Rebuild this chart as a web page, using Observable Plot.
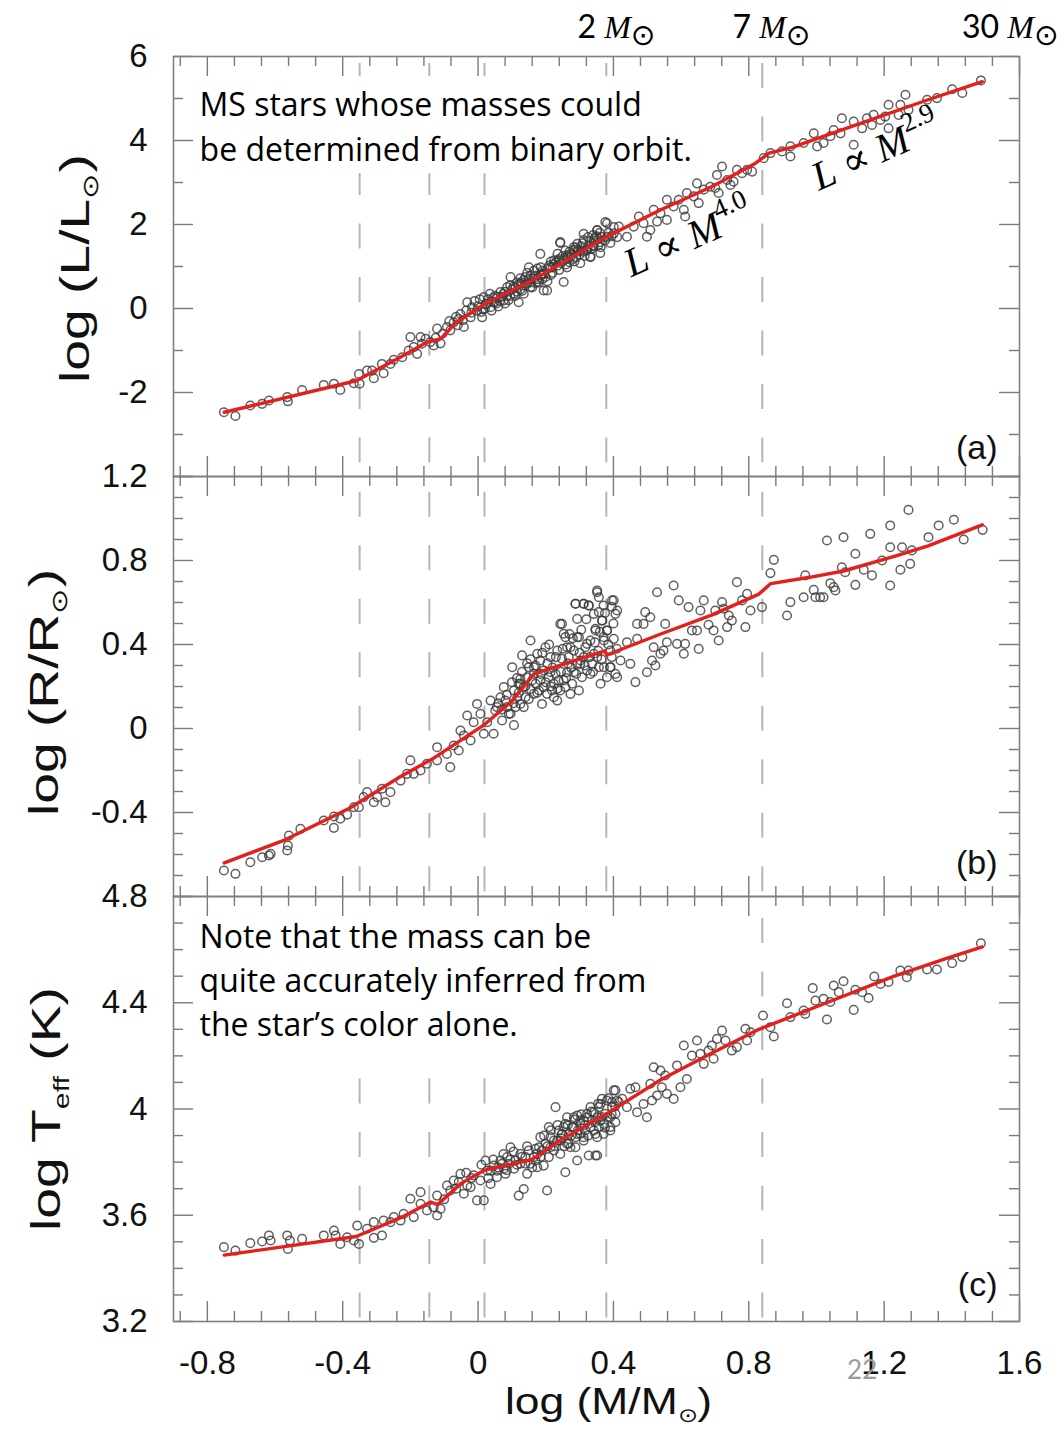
<!DOCTYPE html>
<html><head><meta charset="utf-8">
<script src="https://cdn.jsdelivr.net/npm/d3@7"></script>
<script src="https://cdn.jsdelivr.net/npm/@observablehq/plot@0.6"></script>
<style>
body{margin:0;background:#fff;}
#wrap{position:relative;width:1064px;height:1430px;overflow:hidden;background:#fff;}
</style></head><body><div id="wrap"></div>
<script>
// ---------- DATA ----------
// x = log(M/Msun)
const lumStars = [[-0.751,-2.47],[-0.717,-2.56],[-0.673,-2.31],[-0.638,-2.27],[-0.618,-2.19],[-0.564,-2.11],[-0.562,-2.21],[-0.520,-1.94],[-0.456,-1.82],[-0.426,-1.79],[-0.407,-1.94],[-0.367,-1.78],[-0.352,-1.56],[-0.350,-1.79],[-0.328,-1.48],[-0.308,-1.66],[-0.313,-1.48],[-0.284,-1.32],[-0.279,-1.54],[-0.259,-1.32],[-0.249,-1.22],[-0.224,-1.16],[-0.200,-0.68],[-0.205,-1.00],[-0.190,-0.92],[-0.180,-1.08],[-0.170,-0.68],[-0.166,-0.84],[-0.141,-0.80],[-0.131,-0.88],[-0.121,-0.48],[-0.111,-0.83],[-0.092,-0.44],[-0.082,-0.52],[-0.072,-0.33],[-0.057,-0.25],[-0.052,-0.13],[-0.042,-0.44],[-0.032,0.15],[-0.022,-0.21],[-0.018,0.03],[-0.003,-0.05],[0.012,-0.21],[0.017,0.27],[0.022,0.11],[0.037,0.03],[0.046,0.15],[0.056,0.27],[0.066,0.39],[0.076,0.19],[0.086,0.51],[0.096,0.75],[0.106,0.35],[0.120,0.15],[0.125,0.59],[0.135,0.35],[0.140,0.75],[0.150,0.98],[0.155,0.51],[0.165,0.90],[0.175,0.63],[0.184,1.30],[0.189,0.83],[0.194,0.43],[0.204,0.43],[0.214,0.98],[0.224,1.06],[0.238,1.14],[0.243,1.58],[0.253,0.63],[0.258,1.38],[0.263,0.98],[0.273,1.22],[0.283,1.46],[0.293,1.54],[0.303,1.38],[0.312,1.78],[0.322,1.38],[0.332,1.22],[0.342,1.62],[0.352,1.86],[0.362,1.46],[0.376,2.06],[0.381,1.70],[0.401,1.94],[0.411,1.70],
[0.243,1.56],[0.263,1.24],[0.283,1.40],[0.302,1.08],[0.312,1.63],[0.332,1.24],[0.342,1.48],[0.352,1.87],[0.361,1.32],[0.381,2.03],[0.391,1.56],[0.401,1.79],[0.416,1.95],[0.440,1.71],[0.460,1.95],[0.475,2.19],[0.489,2.03],[0.499,1.71],[0.509,1.87],[0.519,2.35],[0.529,2.07],[0.539,2.27],[0.558,2.11],[0.558,2.59],[0.578,2.43],[0.593,2.59],[0.608,2.35],[0.612,2.19],[0.617,2.75],[0.637,2.67],[0.647,2.98],[0.652,2.51],[0.667,2.83],[0.686,2.90],[0.701,2.87],[0.711,2.75],[0.721,3.38],[0.706,3.18],[0.736,3.06],[0.746,2.94],[0.755,3.02],[0.765,3.30],[0.780,3.22],[0.795,3.30],[0.810,3.26],[0.844,3.58],[0.864,3.70],[0.898,3.74],[0.923,3.62],[0.923,3.86],[0.962,3.94],[0.992,4.17],[1.002,3.86],[1.021,3.94],[1.041,4.10],[1.051,4.25],[1.071,4.17],[1.075,4.53],[1.110,4.45],[1.110,3.90],[1.135,4.29],[1.149,4.53],[1.164,4.37],[1.169,4.61],[1.189,4.49],[1.203,4.57],[1.213,4.29],[1.213,4.85],[1.243,4.61],[1.248,4.85],[1.263,5.09],[1.272,4.73],[1.327,4.97],[1.356,5.01],[1.401,5.22],[1.431,5.13],[1.486,5.43],
[0.00,0.05],[0.03,0.22],[0.04,-0.05],[0.05,0.30],[0.06,0.05],[0.07,0.28],[0.08,0.40],[0.09,0.20],[0.10,0.45],[0.11,0.30],[0.12,0.58],[0.13,0.42],[0.14,0.55],[0.15,0.70],[0.16,0.50],[0.17,0.78],[0.18,0.62],[0.19,0.90],[0.20,0.75],[0.21,1.02],[0.22,0.85],[0.23,1.10],[0.24,0.92],[0.25,1.25],[0.26,1.05],[0.27,1.35],[0.28,1.18],[0.29,1.45],[0.30,1.28],[0.31,1.55],[0.32,1.40],[0.33,1.60],[0.34,1.50],[0.35,1.72],[0.36,1.58],[0.02,0.00],[0.08,0.12],[0.13,0.62],[0.19,0.70],[0.24,1.18],[0.29,1.22],[0.34,1.75],[-0.02,-0.10],[0.05,0.15],[0.11,0.50],[0.17,0.60],[0.22,0.98],[0.27,1.10],[0.31,1.35],[0.36,1.80],
[-0.01,0.18],[0.01,-0.08],[0.035,0.35],[0.065,0.18],[0.095,0.55],[0.115,0.40],[0.145,0.85],[0.175,0.95],[0.205,0.65],[0.235,1.30],[0.265,1.20],[0.295,1.35],[0.325,1.70],[0.355,1.66],[0.215,1.12],[0.185,0.80],[0.155,0.62],[0.125,0.72],
[0.005,0.22],[0.015,-0.02],[0.025,0.12],[0.045,0.25],[0.055,0.12],[0.075,0.35],[0.085,0.30],[0.095,0.30],[0.105,0.52],[0.115,0.62],[0.125,0.45],[0.135,0.68],[0.145,0.60],[0.155,0.78],[0.165,0.72],[0.175,0.70],[0.185,0.98],[0.195,0.82],[0.205,0.95],[0.215,0.80],[0.225,1.15],[0.235,1.02],[0.245,1.08],[0.255,1.15],[0.265,1.28],[0.275,1.30],[0.285,1.12],[0.295,1.40],[0.305,1.48],[0.315,1.25],[0.325,1.48],[0.335,1.42],[0.345,1.68],[0.355,1.50],[0.365,1.70],[0.375,1.62],[0.385,1.80],[0.395,1.72],[-0.035,-0.05],[-0.045,-0.28],[-0.065,-0.20],[-0.085,-0.30],[-0.105,-0.60],[-0.125,-0.70],[-0.155,-0.72],[-0.06,-0.40]];

const lumFit = [[-0.75,-2.47],[-0.36,-1.72],[-0.23,-1.16],[-0.15,-0.80],[-0.11,-0.72],[-0.07,-0.37],[0.02,0.11],[0.16,0.67],[0.26,1.14],[0.37,1.67],[0.54,2.35],[0.69,2.90],[0.82,3.46],[0.86,3.70],[0.93,3.84],[1.13,4.41],[1.33,4.97],[1.49,5.40]];

const radStars = [[-0.751,-0.676],[-0.717,-0.692],[-0.673,-0.637],[-0.638,-0.613],[-0.618,-0.605],[-0.613,-0.597],[-0.564,-0.581],[-0.562,-0.557],[-0.559,-0.510],[-0.525,-0.478],[-0.456,-0.438],[-0.426,-0.473],[-0.426,-0.419],[-0.407,-0.430],[-0.387,-0.410],[-0.367,-0.375],[-0.352,-0.375],[-0.338,-0.327],[-0.328,-0.303],[-0.308,-0.351],[-0.298,-0.327],[-0.284,-0.287],[-0.274,-0.351],[-0.259,-0.303],[-0.229,-0.248],[-0.210,-0.216],[-0.200,-0.152],[-0.190,-0.216],[-0.170,-0.200],[-0.151,-0.168],[-0.121,-0.089],[-0.121,-0.152],[-0.092,-0.121],[-0.082,-0.184],[-0.072,-0.081],[-0.057,-0.105],[-0.052,-0.010],[-0.042,-0.033],[-0.032,0.062],[-0.022,-0.057],[-0.013,0.030],[-0.003,0.117],[0.007,0.070],[0.017,-0.025],[0.027,0.030],[0.037,0.133],[0.046,-0.025],[0.051,0.086],[0.066,0.149],[0.076,0.197],[0.086,0.102],[0.091,0.070],[0.101,0.292],[0.106,0.181],[0.116,0.149],[0.125,0.237],[0.130,0.348],[0.135,0.197],[0.150,0.292],[0.155,0.419],[0.165,0.165],[0.175,0.356],[0.184,0.229],[0.189,0.117],[0.199,0.387],[0.204,0.165],[0.214,0.268],[0.224,0.213],[0.234,0.133],[0.243,0.498],[0.248,0.332],[0.253,0.451],[0.263,0.387],[0.273,0.165],[0.283,0.268],[0.288,0.594],[0.293,0.435],[0.298,0.181],[0.303,0.324],[0.312,0.594],[0.317,0.387],[0.327,0.586],[0.332,0.260],[0.342,0.356],[0.347,0.467],[0.352,0.649],[0.357,0.554],[0.362,0.213],[0.367,0.514],[0.372,0.419],[0.381,0.467],[0.391,0.292],[0.401,0.610],[0.406,0.260],[0.411,0.562],
[0.096,0.070],[0.111,0.102],[0.125,0.117],[0.140,0.149],[0.155,0.187],[0.170,0.213],[0.180,0.181],[0.194,0.197],[0.209,0.244],[0.219,0.181],[0.229,0.260],[0.238,0.229],[0.253,0.229],[0.258,0.197],[0.263,0.268],[0.278,0.213],[0.293,0.308],[0.307,0.244],[0.322,0.276],[0.337,0.308],[0.352,0.340],[0.372,0.292],[0.391,0.371],[0.165,0.292],[0.184,0.324],[0.214,0.340],[0.234,0.371],[0.268,0.340],[0.125,0.213],[0.145,0.244],[0.056,0.102],[0.071,0.038],[0.081,0.133],[0.106,0.016],[0.120,0.213],[0.135,0.102],[0.165,0.260],[0.194,0.276],[0.224,0.149],[0.243,0.181],[0.283,0.371],[0.312,0.340],[0.332,0.419],[0.357,0.292],[0.381,0.244],
[0.06,0.12],[0.07,0.09],[0.085,0.16],[0.10,0.22],[0.105,0.12],[0.115,0.24],[0.12,0.17],[0.13,0.27],[0.14,0.20],[0.145,0.31],[0.15,0.14],[0.16,0.23],[0.17,0.30],[0.175,0.17],[0.185,0.26],[0.19,0.36],[0.20,0.22],[0.205,0.31],[0.215,0.20],[0.22,0.29],[0.23,0.34],[0.235,0.19],[0.245,0.27],[0.25,0.38],[0.26,0.24],[0.265,0.31],[0.275,0.29],[0.28,0.43],[0.29,0.26],[0.30,0.36],[0.305,0.47],[0.315,0.30],[0.32,0.52],[0.33,0.34],[0.34,0.27],[0.345,0.41],[0.355,0.37],[0.365,0.33],[0.375,0.55],[0.385,0.40],[0.395,0.34],[0.40,0.50],[0.41,0.38],[0.155,0.33],[0.21,0.40],[0.27,0.45],[0.36,0.46],[0.395,0.58],
[0.248,0.498],[0.258,0.435],[0.273,0.387],[0.288,0.594],[0.293,0.522],[0.298,0.435],[0.302,0.308],[0.312,0.594],[0.322,0.403],[0.327,0.586],[0.342,0.546],[0.347,0.475],[0.352,0.657],[0.357,0.625],[0.366,0.514],[0.371,0.435],[0.371,0.586],[0.381,0.467],[0.391,0.292],[0.396,0.610],[0.401,0.427],[0.406,0.546],[0.411,0.244],[0.421,0.324],[0.440,0.411],[0.450,0.308],[0.465,0.221],[0.470,0.427],[0.470,0.498],[0.489,0.498],[0.494,0.554],[0.499,0.268],[0.509,0.530],[0.514,0.324],[0.519,0.387],[0.524,0.300],[0.529,0.649],[0.539,0.356],[0.548,0.371],[0.553,0.498],[0.558,0.411],[0.578,0.681],[0.588,0.403],[0.593,0.610],[0.608,0.356],[0.612,0.403],[0.622,0.578],[0.632,0.467],[0.647,0.467],[0.652,0.379],[0.657,0.562],[0.667,0.610],[0.681,0.494],[0.696,0.467],[0.701,0.562],[0.711,0.419],[0.721,0.602],[0.726,0.570],[0.736,0.483],[0.741,0.538],[0.750,0.514],[0.765,0.697],[0.780,0.610],[0.790,0.483],[0.795,0.641],[0.805,0.562],[0.839,0.578],[0.864,0.740],[0.874,0.803],[0.913,0.538],[0.923,0.602],[0.962,0.625],[0.967,0.729],[0.992,0.660],[0.997,0.625],[1.011,0.625],[1.021,0.625],[1.031,0.895],[1.041,0.692],[1.051,0.673],[1.056,0.657],[1.075,0.768],[1.080,0.911],[1.085,0.744],[1.115,0.832],[1.115,0.684],[1.140,0.756],[1.159,0.927],[1.164,0.729],[1.194,0.800],[1.218,0.967],[1.218,0.863],[1.218,0.681],[1.253,0.863],[1.248,0.756],[1.272,1.041],[1.277,0.784],[1.282,0.848],[1.331,0.911],[1.361,0.967],[1.406,0.994],[1.435,0.900],[1.491,0.946]];

const radFit = [[-0.75,-0.64],[-0.57,-0.53],[-0.38,-0.38],[-0.23,-0.23],[-0.13,-0.14],[0.02,0.02],[0.10,0.13],[0.165,0.26],[0.26,0.31],[0.375,0.37],[0.38,0.35],[0.54,0.45],[0.69,0.54],[0.83,0.64],[0.865,0.69],[0.98,0.72],[1.08,0.75],[1.23,0.82],[1.33,0.87],[1.49,0.97]];

const tempStars = [[-0.751,3.480],[-0.717,3.467],[-0.673,3.495],[-0.638,3.501],[-0.618,3.524],[-0.613,3.505],[-0.564,3.524],[-0.562,3.473],[-0.556,3.505],[-0.520,3.511],[-0.456,3.524],[-0.426,3.542],[-0.421,3.524],[-0.407,3.492],[-0.387,3.517],[-0.367,3.505],[-0.352,3.492],[-0.357,3.561],[-0.328,3.549],[-0.308,3.574],[-0.308,3.515],[-0.284,3.524],[-0.279,3.580],[-0.259,3.574],[-0.249,3.593],[-0.229,3.580],[-0.220,3.605],[-0.200,3.662],[-0.190,3.593],[-0.170,3.687],[-0.170,3.643],[-0.151,3.618],[-0.131,3.630],[-0.121,3.674],[-0.121,3.599],[-0.111,3.624],[-0.092,3.712],[-0.082,3.693],[-0.072,3.731],[-0.057,3.725],[-0.052,3.756],[-0.042,3.681],[-0.032,3.712],[-0.022,3.706],[-0.013,3.750],[-0.003,3.656],[0.007,3.731],[0.017,3.656],[0.022,3.806],[0.027,3.768],[0.037,3.718],[0.046,3.787],[0.056,3.768],[0.066,3.806],[0.076,3.775],[0.086,3.819],[0.096,3.856],[0.106,3.775],[0.120,3.674],[0.125,3.831],[0.135,3.699],[0.140,3.794],[0.150,3.844],[0.165,3.819],[0.175,3.831],[0.184,3.894],[0.189,3.844],[0.194,3.787],[0.204,3.693],[0.209,3.932],[0.214,3.856],[0.224,3.881],[0.229,4.007],[0.238,3.919],[0.243,3.831],[0.253,3.932],[0.258,3.762],[0.263,3.969],[0.273,3.856],[0.283,3.932],[0.293,3.975],[0.293,3.806],[0.303,3.906],[0.312,3.957],[0.322,3.982],[0.327,3.825],[0.332,4.007],[0.342,3.919],[0.347,3.825],[0.352,3.969],[0.362,4.019],[0.372,3.944],[0.381,4.032],[0.391,3.932],[0.401,4.070],[0.406,3.982],[0.411,4.032],
[0.037,3.768],[0.056,3.743],[0.071,3.794],[0.081,3.756],[0.091,3.794],[0.111,3.806],[0.125,3.794],[0.140,3.819],[0.155,3.794],[0.170,3.806],[0.180,3.856],[0.199,3.869],[0.214,3.894],[0.224,3.844],[0.234,3.881],[0.248,3.906],[0.268,3.906],[0.278,3.932],[0.288,3.894],[0.303,3.944],[0.317,3.919],[0.337,3.957],[0.357,3.932],[0.376,3.982],[0.396,4.007],[0.145,3.756],[0.175,3.781],[0.209,3.819],[0.243,3.881],[0.263,3.869],[0.312,3.881],[0.352,3.894],[0.391,3.969],
[0.01,3.79],[0.03,3.74],[0.045,3.81],[0.06,3.78],[0.075,3.83],[0.085,3.77],[0.095,3.81],[0.105,3.84],[0.115,3.79],[0.13,3.82],[0.145,3.86],[0.16,3.78],[0.17,3.85],[0.185,3.82],[0.195,3.90],[0.205,3.86],[0.215,3.92],[0.225,3.86],[0.235,3.94],[0.245,3.89],[0.255,3.86],[0.265,3.94],[0.275,3.90],[0.285,3.96],[0.295,3.92],[0.305,3.98],[0.315,3.94],[0.325,3.90],[0.335,3.99],[0.345,3.95],[0.355,4.02],[0.365,3.97],[0.375,3.93],[0.385,4.04],[0.395,3.98],[0.405,4.01],[-0.02,3.74],[-0.035,3.76],[-0.065,3.70],[-0.10,3.66],
[0.248,3.906],[0.258,3.944],[0.268,3.869],[0.283,3.969],[0.288,3.856],[0.293,3.906],[0.302,3.957],[0.312,3.894],[0.322,3.969],[0.332,3.932],[0.342,3.988],[0.347,3.906],[0.352,3.825],[0.357,4.007],[0.361,3.957],[0.366,4.038],[0.371,3.906],[0.381,3.969],[0.391,3.919],[0.396,4.026],[0.406,4.070],[0.406,3.950],[0.416,4.026],[0.426,4.038],[0.440,4.007],[0.450,4.076],[0.465,4.082],[0.470,3.988],[0.489,4.019],[0.499,3.969],[0.509,4.095],[0.514,4.032],[0.519,4.157],[0.529,4.051],[0.539,4.145],[0.543,4.082],[0.553,4.126],[0.558,4.057],[0.578,4.038],[0.588,4.164],[0.598,4.082],[0.608,4.239],[0.617,4.113],[0.632,4.201],[0.647,4.258],[0.657,4.208],[0.667,4.170],[0.681,4.220],[0.691,4.239],[0.696,4.189],[0.706,4.264],[0.721,4.295],[0.731,4.258],[0.750,4.220],[0.765,4.233],[0.790,4.302],[0.795,4.258],[0.805,4.289],[0.842,4.352],[0.864,4.308],[0.874,4.273],[0.913,4.398],[0.923,4.346],[0.962,4.371],[0.967,4.358],[0.989,4.455],[0.997,4.408],[1.021,4.415],[1.031,4.337],[1.041,4.403],[1.051,4.465],[1.066,4.440],[1.080,4.481],[1.110,4.373],[1.115,4.449],[1.135,4.440],[1.154,4.418],[1.171,4.499],[1.189,4.471],[1.213,4.478],[1.248,4.521],[1.267,4.496],[1.272,4.521],[1.327,4.525],[1.356,4.525],[1.401,4.549],[1.431,4.572],[1.486,4.624]];

const tempFit = [[-0.75,3.45],[-0.36,3.52],[-0.23,3.59],[-0.14,3.65],[-0.12,3.64],[-0.05,3.72],[0.02,3.77],[0.16,3.81],[0.24,3.88],[0.39,3.99],[0.54,4.11],[0.69,4.21],[0.83,4.30],[1.03,4.40],[1.23,4.50],[1.38,4.565],[1.49,4.61]];

// axes / ticks
const xDomain = [-0.9, 1.6];
const xTickLabels = [-0.8, -0.4, 0, 0.4, 0.8, 1.2, 1.6];
const xMinorTicks = [-0.88,-0.72,-0.64,-0.56,-0.48,-0.32,-0.24,-0.16,-0.08,0.08,0.16,0.24,0.32,0.48,0.56,0.64,0.72,0.88,0.96,1.04,1.12,1.28,1.36,1.44,1.52];
const dashedX = [-0.35, -0.144, 0.019, 0.379, 0.840];

const lumDomain = [-4, 6], lumLabels = [6, 4, 2, 0, -2], lumMajor = [-4,-2,0,2,4,6], lumMinor = [-3,-1,1,3,5];
const radDomain = [-0.8, 1.2], radLabels = [1.2, 0.8, 0.4, 0, -0.4], radMajor = [-0.8,-0.4,0,0.4,0.8,1.2], radMinor = [-0.7,-0.6,-0.5,-0.3,-0.2,-0.1,0.1,0.2,0.3,0.5,0.6,0.7,0.9,1.0,1.1];
const tempDomain = [3.2, 4.8], tempLabels = [4.8, 4.4, 4, 3.6, 3.2], tempMajor = [3.2,3.6,4.0,4.4,4.8], tempMinor = [3.3,3.4,3.5,3.7,3.8,3.9,4.1,4.2,4.3,4.5,4.6,4.7];

// annotations
const massLabels = [{x: 0.409, y: 6.69, t: "2 *{M}~{⊙}"}, {x: 0.867, y: 6.69, t: "7 *{M}~{⊙}"}, {x: 1.573, y: 6.69, t: "30 *{M}~{⊙}"}];
const lawLabels = [{x: 0.437, y: 1.02, t: "*{L} ∝ *{M}^{4.0}"}, {x: 0.992, y: 3.08, t: "*{L} ∝ *{M}^{2.9}"}];
const noteA = {x: -0.823, y: 5.35, t: "MS stars whose masses could\nbe determined from binary orbit."};
const boxA = [{x1: -0.85, x2: 0.69, y1: 3.21, y2: 5.52}];
const noteC = {x: -0.823, y: 4.722, t: "Note that the mass can be\nquite accurately inferred from\nthe star’s color alone."};
const boxC = [{x1: -0.85, x2: 0.539, y1: 4.183, y2: 4.747}];

// ---------- RENDER ----------
const W = 1064, ML = 173, MR = 45, innerW = W - ML - MR;
const SANS = "'Liberation Sans', Arial, sans-serif";
const SERIF = "'Liberation Serif', 'DejaVu Serif', serif";
const fmt = d => String(d);

function frameTicks(innerH, yMajor, yMinor) {
  const c = {stroke: "#7a7a7a", strokeWidth: 1.4};
  return [
    Plot.ruleX(xTickLabels, {x: d => d, insetBottom: innerH - 20, ...c}),
    Plot.ruleX(xMinorTicks, {x: d => d, insetBottom: innerH - 10, ...c}),
    Plot.ruleX(xTickLabels, {x: d => d, insetTop: innerH - 20, ...c}),
    Plot.ruleX(xMinorTicks, {x: d => d, insetTop: innerH - 10, ...c}),
    Plot.ruleY(yMajor, {y: d => d, insetRight: innerW - 20, ...c}),
    Plot.ruleY(yMinor, {y: d => d, insetRight: innerW - 10, ...c}),
    Plot.ruleY(yMajor, {y: d => d, insetLeft: innerW - 20, ...c}),
    Plot.ruleY(yMinor, {y: d => d, insetLeft: innerW - 10, ...c}),
    Plot.frame({stroke: "#808080", strokeWidth: 1.6})
  ];
}

function panel(o) {
  const innerH = o.height - o.mT - o.mB;
  const marks = [
    Plot.ruleX(dashedX, {x: d => d, stroke: "#b5b5b5", strokeWidth: 2, strokeDasharray: "25,28.5", strokeDashoffset: o.dashOff}),
    ...(o.box ? [Plot.rect(o.box, {x1: "x1", x2: "x2", y1: "y1", y2: "y2", fill: "white"})] : []),
    ...frameTicks(innerH, o.yMajor, o.yMinor),
    Plot.dot(o.stars, {x: d => d[0], y: d => d[1], r: 4.3, stroke: "#3a3a3a", strokeOpacity: 0.8, strokeWidth: 1.5, fill: "none"}),
    Plot.line(o.fit, {x: d => d[0], y: d => d[1], stroke: "#e3201c", strokeWidth: 3.4}),
    Plot.axisY({ticks: o.yLabels, anchor: "left", tickSize: 0, tickPadding: 26, tickFormat: fmt, fontSize: 33, fontFamily: SANS, label: null}),
    Plot.text([o.tag], {frameAnchor: "bottom-right", dx: -22, dy: o.tagDy, fontSize: 34, fontFamily: SANS, fill: "#111"}),
    Plot.text([o.ytitle], {frameAnchor: "left", rotate: -90, dx: o.ytDx, dy: o.ytDy, textAnchor: "middle", lineAnchor: "middle", fontSize: 40, fontFamily: SANS, fill: "#111"}),
    ...(o.extra || [])
  ];
  return Plot.plot({
    width: W, height: o.height,
    marginLeft: ML, marginRight: MR, marginTop: o.mT, marginBottom: o.mB,
    x: {domain: xDomain, axis: null},
    y: {domain: o.yDomain, axis: null},
    style: {background: "transparent", overflow: "visible", position: "absolute", left: "0px", top: o.top + "px", maxWidth: "none", fontFamily: SANS, color: "#111"},
    marks
  });
}

const SVGNS = "http://www.w3.org/2000/svg";
function richify(root) {
  root.querySelectorAll("text").forEach(t => {
    if (t.children.length) return;
    const s = t.textContent;
    if (!/[\^_*~]\{/.test(s)) return;
    const fs = parseFloat(getComputedStyle(t).fontSize) || 16;
    t.textContent = "";
    let cur = 0;
    const parts = s.split(/([\^_*~]\{[^}]*\})/).filter(p => p.length);
    for (const p of parts) {
      const ts = document.createElementNS(SVGNS, "tspan");
      let shift = 0, txt = p;
      const m = p.match(/^([\^_*~])\{([^}]*)\}$/);
      if (m) {
        txt = m[2];
        if (m[1] === "^") { shift = -0.45 * fs; ts.setAttribute("font-size", (0.68 * fs) + "px"); ts.setAttribute("font-style", "normal"); }
        else if (m[1] === "_") { shift = 0.22 * fs; ts.setAttribute("font-size", (0.55 * fs) + "px"); }
        else if (m[1] === "~") { shift = 0.22 * fs; ts.setAttribute("font-size", (0.92 * fs) + "px"); ts.setAttribute("font-family", "'DejaVu Sans', sans-serif"); }
        else if (m[1] === "*") { ts.setAttribute("font-style", "italic"); ts.setAttribute("font-family", SERIF); }
      }
      if (shift !== cur) { ts.setAttribute("dy", (shift - cur) + "px"); cur = shift; }
      ts.textContent = txt;
      t.appendChild(ts);
    }
  });
}

const wrap = document.getElementById("wrap");

const A = panel({
  top: 0, height: 500, mT: 56, mB: 24, yDomain: lumDomain, yLabels: lumLabels, yMajor: lumMajor, yMinor: lumMinor,
  stars: lumStars, fit: lumFit, dashOff: 46.5, box: boxA, tag: "(a)", tagDy: -18,
  ytitle: "log (L/L_{⊙})", ytDx: -97, ytDy: 2,
  extra: [
    Plot.text([noteA], {x: "x", y: "y", text: "t", textAnchor: "start", lineAnchor: "top", lineHeight: 1.41, fontSize: 32, fontFamily: "'Open Sans', sans-serif", fill: "#000"}),
    Plot.text(lawLabels, {x: "x", y: "y", text: "t", rotate: -24, textAnchor: "start", lineAnchor: "middle", fontSize: 40, fontFamily: SERIF, fill: "#000"}),
    Plot.text(massLabels, {x: "x", y: "y", text: "t", textAnchor: "middle", lineAnchor: "middle", fontSize: 32, fontFamily: "Lato, 'Open Sans', sans-serif", fill: "#000"})
  ]
});
const B = panel({
  top: 452, height: 468, mT: 24, mB: 24, yDomain: radDomain, yLabels: radLabels, yMajor: radMajor, yMinor: radMinor,
  stars: radStars, fit: radFit, dashOff: 37.8, tag: "(b)", tagDy: -23,
  ytitle: "log (R/R_{⊙})", ytDx: -128, ytDy: 6
});
const C = panel({
  top: 872, height: 558, mT: 24, mB: 109, yDomain: tempDomain, yLabels: tempLabels, yMajor: tempMajor, yMinor: tempMinor,
  stars: tempStars, fit: tempFit, dashOff: 31.5, box: boxC, tag: "(c)", tagDy: -26,
  ytitle: "log T_{eff} (K)", ytDx: -126, ytDy: 0,
  extra: [
    Plot.text([noteC], {x: "x", y: "y", text: "t", textAnchor: "start", lineAnchor: "top", lineHeight: 1.375, fontSize: 32, fontFamily: "'Open Sans', sans-serif", fill: "#000"}),
    Plot.axisX({ticks: xTickLabels, anchor: "bottom", tickSize: 0, tickPadding: 29, tickFormat: fmt, fontSize: 33, fontFamily: SANS, label: null}),
    Plot.text(["log (M/M_{⊙})"], {frameAnchor: "bottom", dx: 12, dy: 81, lineAnchor: "middle", fontSize: 37, fontFamily: SANS, fill: "#111"}),
    Plot.text([{x: 1.135, y: 3.015}], {x: "x", y: "y", text: () => "22", fontSize: 26, fontFamily: "Lato, sans-serif", fill: "#9a9a9a"})
  ]
});
wrap.append(A, B, C);
[A, B, C].forEach(s => richify(s));
// stretch the axis titles along their length, as in the reference
[A, B, C].forEach(s => s.querySelectorAll("text").forEach(t => {
  const tr = t.getAttribute("transform") || "";
  if (/rotate\(-90\)/.test(tr)) t.setAttribute("transform", tr + " scale(1.38,1)");
  else if (/^log \(M/.test(t.textContent)) t.setAttribute("transform", tr + " scale(1.2,1)");
}));
</script></body></html>
